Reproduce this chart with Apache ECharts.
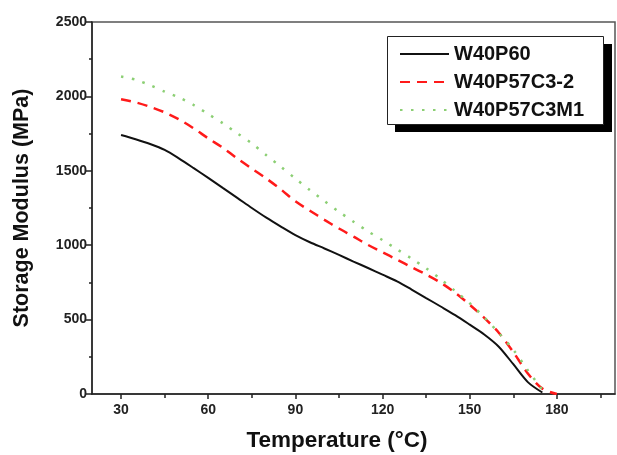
<!DOCTYPE html>
<html>
<head>
<meta charset="utf-8">
<script src="https://cdn.jsdelivr.net/npm/echarts@6/dist/echarts.min.js"></script>
<style>
  html, body { margin: 0; padding: 0; background: #fff; }
  #chart { width: 617px; height: 455px; }
</style>
</head>
<body>
<div id="chart"></div>
<script>
// Temperature sampling points (°C)
const temperatures = [30, 35, 40, 45, 50, 55, 60, 65, 70, 75, 80, 85, 90, 95, 100, 105, 110, 115, 120, 125, 130, 135, 140, 145, 150, 155, 160, 165, 170, 175, 180];

// Storage modulus (MPa) for each sample
const w40p60 = [1740, 1712, 1680, 1640, 1582, 1518, 1452, 1385, 1318, 1250, 1185, 1125, 1068, 1020, 978, 935, 890, 847, 802, 757, 702, 645, 588, 530, 466, 400, 318, 200, 80, 10, null];
const w40p57c32 = [1981, 1960, 1930, 1893, 1845, 1785, 1718, 1655, 1583, 1515, 1448, 1375, 1295, 1232, 1170, 1112, 1058, 1002, 952, 903, 852, 803, 748, 680, 600, 512, 412, 282, 138, 36, 0];
const w40p57c3m1 = [2134, 2112, 2075, 2032, 1992, 1942, 1881, 1820, 1752, 1684, 1605, 1527, 1448, 1370, 1297, 1225, 1158, 1093, 1034, 972, 910, 845, 772, 692, 610, 515, 410, 298, 160, 28, null];

const seriesNames = ['W40P60', 'W40P57C3-2', 'W40P57C3M1'];

// Axis ticks
const xMajorTicks = [30, 60, 90, 120, 150, 180];
const xMinorTicks = [45, 75, 105, 135, 165, 195];

const FONT = "'Liberation Sans', Arial, Helvetica, sans-serif";

function pairs(values) {
  return temperatures.map((t, i) => [t, values[i]]);
}

const chart = echarts.init(document.getElementById('chart'), null, { renderer: 'canvas' });

chart.setOption({
  animation: false,
  backgroundColor: '#fff',
  grid: {
    left: 92, right: 2, top: 22, bottom: 61,
    show: true, borderColor: '#555', borderWidth: 1.5, backgroundColor: 'transparent'
  },
  xAxis: [
    {
      type: 'value', min: 20, max: 200,
      axisLine: { show: true, lineStyle: { color: '#222', width: 1.5 } },
      axisTick: { show: true, customValues: xMajorTicks, length: 5, lineStyle: { color: '#222', width: 1.5 } },
      axisLabel: {
        customValues: xMajorTicks, margin: 9,
        color: '#222', fontFamily: FONT, fontWeight: 'bold', fontSize: 14
      },
      splitLine: { show: false }
    },
    {
      type: 'value', min: 20, max: 200, position: 'bottom',
      axisLine: { show: false },
      axisTick: { show: true, customValues: xMinorTicks, length: 4, lineStyle: { color: '#222', width: 1.5 } },
      axisLabel: { show: false },
      splitLine: { show: false }
    }
  ],
  yAxis: {
    type: 'value', min: 0, max: 2500, interval: 500,
    axisLine: { show: true, lineStyle: { color: '#222', width: 1.5 } },
    axisTick: { show: true, length: 6, lineStyle: { color: '#222', width: 1.5 } },
    minorTick: { show: true, splitNumber: 2, length: 3, lineStyle: { color: '#222', width: 1.5 } },
    axisLabel: {
      margin: 5, color: '#222', fontFamily: FONT, fontWeight: 'bold', fontSize: 14,
      formatter: (v) => String(v)
    },
    splitLine: { show: false }
  },
  legend: {
    orient: 'vertical',
    left: 387, top: 36, z: 10,
    padding: [8, 18, 6, 12],
    itemWidth: 49, itemHeight: 20, itemGap: 8,
    itemStyle: { color: 'transparent', borderColor: 'transparent', borderWidth: 0, opacity: 0 },
    textStyle: { color: '#111', fontFamily: FONT, fontWeight: 'bold', fontSize: 20 },
    data: seriesNames
  },
  graphic: [
    // legend frame: offset black block behind a white bordered box
    {
      type: 'rect', z: 5, silent: true,
      shape: { x: 395, y: 44, width: 217, height: 88 },
      style: { fill: '#000' }
    },
    {
      type: 'rect', z: 6, silent: true,
      shape: { x: 387.5, y: 36.5, width: 216, height: 88 },
      style: { fill: '#fff', stroke: '#222', lineWidth: 1 }
    },
    {
      type: 'text', x: 22, y: 208, rotation: Math.PI / 2,
      style: {
        text: 'Storage Modulus (MPa)', fill: '#111',
        font: 'bold 21.5px ' + FONT, align: 'center', verticalAlign: 'middle'
      }
    },
    {
      type: 'text', x: 337, y: 441,
      style: {
        text: 'Temperature (°C)', fill: '#111',
        font: 'bold 22.5px ' + FONT, align: 'center', verticalAlign: 'middle'
      }
    }
  ],
  series: [
    {
      name: seriesNames[0], type: 'line', data: pairs(w40p60),
      showSymbol: false, symbol: 'none', smooth: 0.3,
      lineStyle: { color: '#111', width: 2 }, itemStyle: { color: '#111' }
    },
    {
      name: seriesNames[1], type: 'line', data: pairs(w40p57c32),
      showSymbol: false, symbol: 'none', smooth: 0.3,
      lineStyle: { color: '#ff1a1a', width: 2.5, type: [10, 7] }, itemStyle: { color: '#ff1a1a' }
    },
    {
      name: seriesNames[2], type: 'line', data: pairs(w40p57c3m1),
      showSymbol: false, symbol: 'none', smooth: 0.3,
      lineStyle: { color: '#8ccf74', width: 2.5, type: [2.5, 8.5] }, itemStyle: { color: '#8ccf74' }
    }
  ]
});
</script>
</body>
</html>
